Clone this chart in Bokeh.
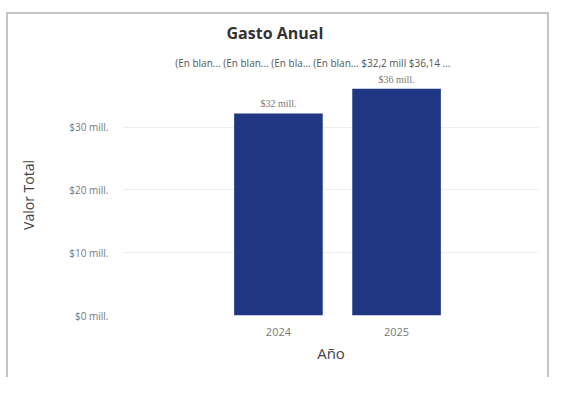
from bokeh.plotting import figure
from bokeh.models import (Range1d, FixedTicker, Title, Label,
                          ColumnDataSource, LabelSet)
from bokeh.embed import file_html
from bokeh.resources import INLINE

# ---- data ----
years = ["2024", "2025"]
valor_mill = [32.2, 36.14]           # Valor Total (millones)
bar_labels = ["$32 mill.", "$36 mill."]
y_ticks = [0, 10, 20, 30]
y_tick_labels = ["$0 mill.", "$10 mill.", "$20 mill.", "$30 mill."]
legend_title = "Fuente"
serie = "SECOP_II"
top_row = "(En blan...    (En blan...    (En bla...    (En blan...    $32,2 mill   $36,14 ..."

BAR = "#1f3683"
FONT = "Open Sans"

idx = list(range(len(years)))
src = ColumnDataSource(dict(x=idx, top=valor_mill, lab=bar_labels))

p = figure(width=543, height=365, output_backend="svg", toolbar_location=None,
           x_range=Range1d(-1.32, 2.21), y_range=Range1d(0, 38.4),
           min_border_left=114, min_border_right=12, min_border_top=4,
           min_border_bottom=64)
p.margin = (12, 0, 0, 6)
p.styles = {"border-left": "2px solid #c4c4c4", "border-top": "2px solid #c4c4c4",
            "border-right": "2px solid #c4c4c4"}
p.outline_line_color = None
p.background_fill_color = "white"
p.border_fill_color = "white"

p.vbar(x="x", top="top", width=0.75, source=src, fill_color=BAR, line_color=None)

labels = LabelSet(x="x", y="top", text="lab", source=src, text_align="center",
                  text_baseline="bottom", y_offset=4, text_font=FONT,
                  text_font_size="10px", text_color="#777777")
p.add_layout(labels)

# legend row (title, marker, series name)
p.add_layout(Label(x=80, y=-59, x_units="screen", y_units="screen", text=legend_title,
                   text_font=FONT, text_font_style="bold", text_font_size="12px",
                   text_color="#444444", text_baseline="middle", text_align="left"))
p.add_layout(Label(x=157, y=-59, x_units="screen", y_units="screen", text="\u25CF",
                   text_font=FONT, text_font_size="14px", text_color=BAR,
                   text_baseline="middle", text_align="center"))
p.add_layout(Label(x=165, y=-59, x_units="screen", y_units="screen", text=serie,
                   text_font=FONT, text_font_size="12px", text_color="#666666",
                   text_baseline="middle", text_align="left"))

# axes
p.xaxis.ticker = FixedTicker(ticks=idx)
p.xaxis.major_label_overrides = {i: y for i, y in zip(idx, years)}
p.xaxis.axis_label = "Año"
p.xaxis.axis_line_color = None
p.xaxis.major_tick_line_color = None
p.xaxis.minor_tick_line_color = None
p.xaxis.major_label_text_font = FONT
p.xaxis.major_label_text_font_size = "11px"
p.xaxis.major_label_text_color = "#777777"
p.xaxis.major_label_standoff = 6
p.xaxis.axis_label_text_font = FONT
p.xaxis.axis_label_text_font_size = "15px"
p.xaxis.axis_label_text_font_style = "normal"
p.xaxis.axis_label_text_color = "#444444"
p.xaxis.axis_label_standoff = 4

p.yaxis.ticker = FixedTicker(ticks=y_ticks)
p.yaxis.major_label_overrides = {t: l for t, l in zip(y_ticks, y_tick_labels)}
p.yaxis.axis_label = "Valor Total"
p.yaxis.axis_line_color = None
p.yaxis.major_tick_line_color = None
p.yaxis.minor_tick_line_color = None
p.yaxis.major_label_text_font = FONT
p.yaxis.major_label_text_font_size = "10px"
p.yaxis.major_label_text_color = "#777777"
p.yaxis.major_label_standoff = 8
p.yaxis.axis_label_text_font = FONT
p.yaxis.axis_label_text_font_size = "14px"
p.yaxis.axis_label_text_font_style = "normal"
p.yaxis.axis_label_text_color = "#444444"
p.yaxis.axis_label_standoff = 28

p.xgrid.grid_line_color = None
p.ygrid.grid_line_color = "#eeeeee"

# titles
p.title = None
p.add_layout(Title(text=top_row, align="center", text_font=FONT,
                   text_font_size="10px", text_font_style="normal",
                   text_color="#555555"), "above")
p.add_layout(Title(text="Gasto Anual", align="left", text_font=FONT,
                   text_font_size="16px", text_font_style="bold",
                   text_color="#333333", offset=104), "above")

open("out.html", "w").write(file_html(p, INLINE))
